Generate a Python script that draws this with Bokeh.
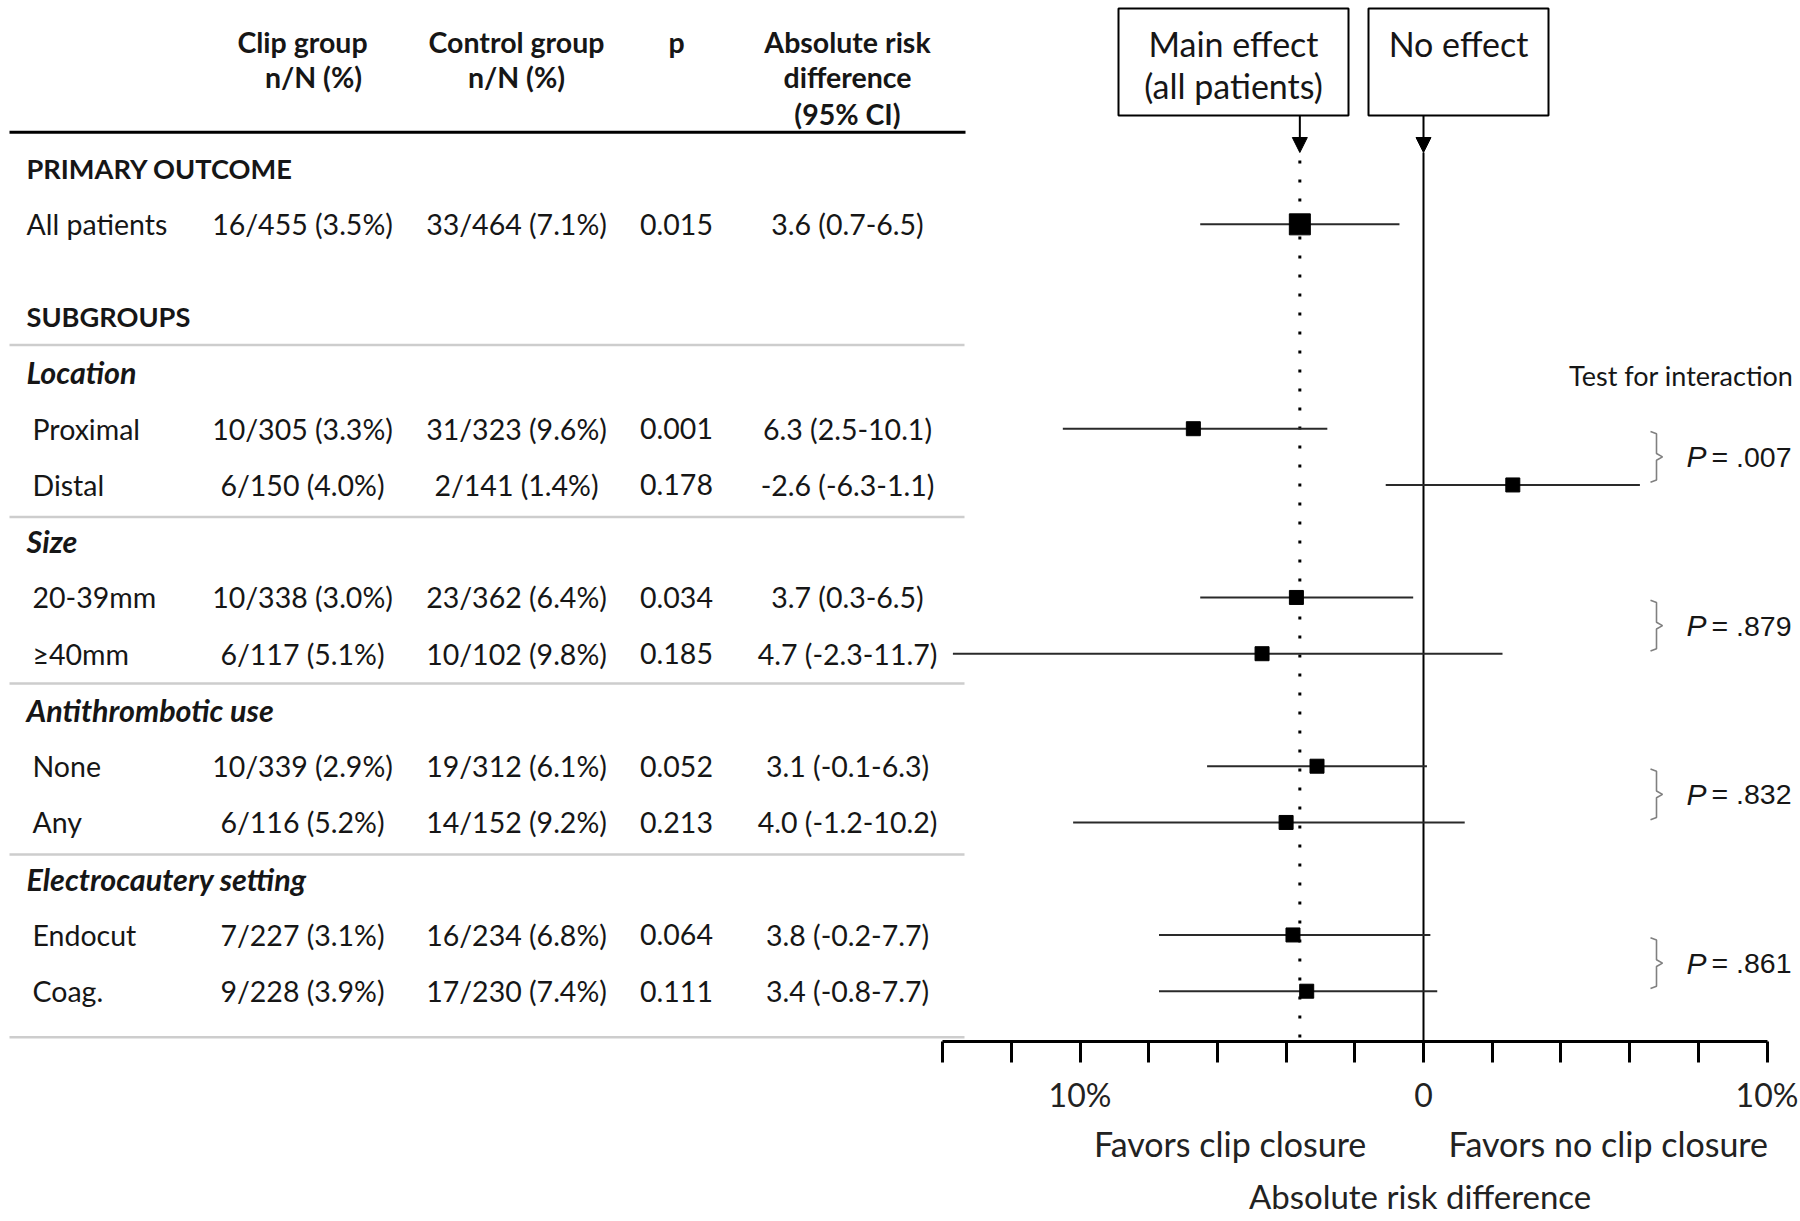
from bokeh.plotting import figure
from bokeh.models import Range1d, LinearAxis, FixedTicker, Arrow, NormalHead
from bokeh.core.properties import value
from bokeh.embed import file_html
from bokeh.resources import INLINE

# ---------------- data ----------------
row_labels = ["All patients", "Proximal", "Distal", "20-39mm", "\u226540mm",
              "None", "Any", "Endocut", "Coag."]
clip_group = ["16/455 (3.5%)", "10/305 (3.3%)", "6/150 (4.0%)", "10/338 (3.0%)",
              "6/117 (5.1%)", "10/339 (2.9%)", "6/116 (5.2%)", "7/227 (3.1%)", "9/228 (3.9%)"]
control_group = ["33/464 (7.1%)", "31/323 (9.6%)", "2/141 (1.4%)", "23/362 (6.4%)",
                 "10/102 (9.8%)", "19/312 (6.1%)", "14/152 (9.2%)", "16/234 (6.8%)", "17/230 (7.4%)"]
p_values = ["0.015", "0.001", "0.178", "0.034", "0.185", "0.052", "0.213", "0.064", "0.111"]
ard_text = ["3.6 (0.7-6.5)", "6.3 (2.5-10.1)", "-2.6 (-6.3-1.1)", "3.7 (0.3-6.5)",
            "4.7 (-2.3-11.7)", "3.1 (-0.1-6.3)", "4.0 (-1.2-10.2)", "3.8 (-0.2-7.7)", "3.4 (-0.8-7.7)"]
# absolute risk difference (%) as drawn in the forest plot
ard = [3.6, 6.7, -2.6, 3.7, 4.7, 3.1, 4.0, 3.8, 3.4]
ard_lo = [0.7, 2.8, -6.3, 0.3, -2.3, -0.1, -1.2, -0.2, -0.4]
ard_hi = [6.5, 10.5, 1.1, 6.5, 13.7, 6.3, 10.2, 7.7, 7.7]
main_effect = 3.6

categories = ["Location", "Size", "Antithrombotic use", "Electrocautery setting"]
interaction_p = [".007", ".879", ".832", ".861"]

axis_ticks = [-14, -12, -10, -8, -6, -4, -2, 0, 2, 4, 6, 8, 10]
axis_tick_labels = {-10: "10%", 0: "0", 10: "10%"}

# ---------------- layout (row units, pixel columns) ----------------
FONT = value("Lato")
TXT = "#161616"
W, H = 1800, 1041
ZERO_PX, PX_PER = 1423.0, 34.35
ROW0_PX, ROW_PX = 167.6, 56.25   # pixel y of row 0 and row pitch


def rowpx(ypx):
    return (ypx - ROW0_PX) / ROW_PX


base = 2.633
row_y = [1.0]
cat_y = []
for k in range(4):
    cat_y.append(base + 1 + 3 * k)
    row_y += [base + 2 + 3 * k, base + 3 + 3 * k]

p = figure(frame_width=W, frame_height=H,
           x_range=Range1d(-ZERO_PX / PX_PER, (W - ZERO_PX) / PX_PER),
           y_range=Range1d(rowpx(H), rowpx(0)),
           output_backend="svg", toolbar_location=None,
           x_axis_location=None, y_axis_location=None,
           min_border=0, outline_line_color=None,
           background_fill_color="white", border_fill_color="white")
p.extra_x_ranges = {"px": Range1d(0, W)}
p.xgrid.visible = False
p.ygrid.visible = False
p.grid.grid_line_color = None

# ---------------- table ----------------
FS = "28.5px"
hdr = dict(x_range_name="px", text_font=FONT, text_font_size=FS, text_font_style="bold",
           text_color=TXT, text_align="center", text_baseline="middle")
p.text(x=[302, 516, 676, 847], y=[rowpx(41)] * 4,
       text=["Clip group", "Control group", "p", "Absolute risk"], **hdr)
p.text(x=[313, 516, 847], y=[rowpx(76.5)] * 3, text=["n/N (%)", "n/N (%)", "difference"], **hdr)
p.text(x=[847], y=[rowpx(113)], text=["(95% CI)"], **hdr)

p.segment(x0=[9], x1=[965], y0=[rowpx(131.7)], y1=[rowpx(131.7)], x_range_name="px",
          line_color="black", line_width=3)
rules = [rowpx(344.4), 6.204, 9.163, 12.203, 15.45]
p.segment(x0=[9] * len(rules), x1=[964] * len(rules), y0=rules, y1=rules, x_range_name="px",
          line_color="#cdcdcd", line_width=2.5)

lab = dict(x_range_name="px", text_font=FONT, text_color=TXT,
           text_align="left", text_baseline="middle")
p.text(x=[26, 26], y=[0, base], text=["PRIMARY OUTCOME", "SUBGROUPS"], text_font_style="bold",
       text_font_size="27.2px", **lab)
p.text(x=[26] * 4, y=cat_y, text=categories, text_font_style="bold italic",
       text_font_size="30.5px", **lab)

body = dict(x_range_name="px", text_font=FONT, text_font_size=FS, text_color=TXT,
            text_baseline="middle")
p.text(x=[26] + [32] * 8, y=row_y, text=row_labels, text_align="left", **body)
p.text(x=[302] * 9, y=row_y, text=clip_group, text_align="center", **body)
p.text(x=[516] * 9, y=row_y, text=control_group, text_align="center", **body)
p.text(x=[676] * 9, y=row_y, text=p_values, text_align="center", **body)
p.text(x=[847] * 9, y=row_y, text=ard_text, text_align="center", **body)

# ---------------- forest ----------------
y_tip = rowpx(152)
p.segment(x0=[0], x1=[0], y0=[y_tip], y1=[rowpx(H)], line_color="black", line_width=2)
p.segment(x0=[-main_effect], x1=[-main_effect], y0=[rowpx(160)], y1=[rowpx(H)],
          line_color="black", line_width=3, line_dash="3 16")

p.segment(x0=[-h for h in ard_hi], x1=[-l for l in ard_lo], y0=row_y, y1=row_y,
          line_color="#2a2a2a", line_width=2)
p.scatter(x=[-a for a in ard], y=row_y, marker="square",
          size=[21] + [14] * 8, fill_color="black", line_color="black")

# boxes and arrows
p.quad(left=[1118, 1368], right=[1348, 1548], top=[rowpx(8)] * 2, bottom=[rowpx(115)] * 2,
       x_range_name="px", fill_color="white", line_color="black", line_width=2)
box_txt = dict(x_range_name="px", text_font=FONT, text_font_size="34px", text_color=TXT,
               text_align="center", text_baseline="middle")
p.text(x=[1233, 1233, 1458], y=[rowpx(43), rowpx(85), rowpx(43)],
       text=["Main effect", "(all patients)", "No effect"], **box_txt)
for xv in (-main_effect, 0):
    p.add_layout(Arrow(x_start=xv, y_start=rowpx(115), x_end=xv, y_end=y_tip,
                       line_width=2, line_color="black",
                       end=NormalHead(size=15, fill_color="black", line_color="black")))

# interaction brackets and p-values
p.text(x=[1793], y=[rowpx(375)], text=["Test for interaction"], x_range_name="px",
       text_font=FONT, text_font_size="27px", text_color=TXT, text_align="right",
       text_baseline="middle")
bx, by = [], []
mids = []
for k in range(4):
    mid = (row_y[1 + 2 * k] + row_y[2 + 2 * k]) / 2
    mids.append(mid)
    h = 0.45
    bx.append([1650, 1656, 1656, 1662, 1656, 1656, 1650])
    by.append([mid - h, mid - h + 0.04, mid - 0.06, mid, mid + 0.06, mid + h - 0.04, mid + h])
p.multi_line(xs=bx, ys=by, x_range_name="px", line_color="#808080", line_width=1.6)
p.text(x=[1686] * 4, y=mids, text=["P"] * 4, x_range_name="px",
       text_font=value("Liberation Sans"), text_font_size="30px", text_font_style="italic",
       text_color=TXT, text_align="left", text_baseline="middle")
p.text(x=[1711] * 4, y=mids, text=["= " + v for v in interaction_p], x_range_name="px",
       text_font=value("Liberation Sans"), text_font_size="28.5px",
       text_color=TXT, text_align="left", text_baseline="middle")

# ---------------- axes ----------------
ax1 = LinearAxis(bounds=(-14, 10), ticker=FixedTicker(ticks=axis_ticks),
                 major_label_overrides={t: axis_tick_labels.get(t, "") for t in axis_ticks})
ax1.axis_line_width = 3
ax1.major_tick_line_width = 3
ax1.major_tick_out = 21
ax1.major_tick_in = 0
ax1.minor_tick_line_color = None
ax1.major_label_standoff = 12
ax1.major_label_text_font = "Lato"
ax1.major_label_text_font_size = "32px"
ax1.major_label_text_color = "#222222"
p.add_layout(ax1, "below")


def text_axis(ticks, labels, standoff, size):
    ax = LinearAxis(bounds=(min(ticks) - 1, max(ticks) + 1), ticker=FixedTicker(ticks=ticks),
                    major_label_overrides=dict(zip(ticks, labels)))
    ax.axis_line_color = None
    ax.major_tick_line_color = None
    ax.minor_tick_line_color = None
    ax.major_tick_out = 0
    ax.major_tick_in = 0
    ax.major_label_standoff = standoff
    ax.major_label_text_font = "Lato"
    ax.major_label_text_font_size = size
    ax.major_label_text_color = "#222222"
    return ax


p.add_layout(text_axis([-5.63, 5.38], ["Favors clip closure", "Favors no clip closure"], 6, "34px"), "below")
p.add_layout(text_axis([-0.1], ["Absolute risk difference"], 9, "33px"), "below")

open("out.html", "w").write(file_html(p, INLINE))
